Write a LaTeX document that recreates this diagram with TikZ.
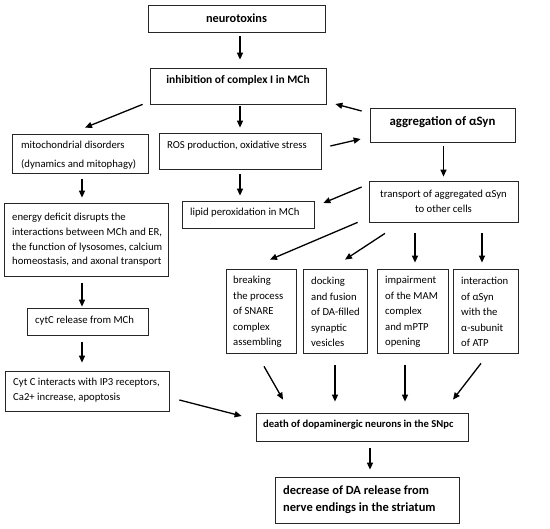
\documentclass[tikz,border=0pt]{standalone}
\usepackage{fontspec}
\setmainfont{Carlito}
\usetikzlibrary{arrows.meta}
\begin{document}
\begin{tikzpicture}[x=1pt,y=-1pt,
  box/.style={draw=black!85, line width=0.75pt, rectangle, inner sep=0pt},
  txt/.style={inner sep=0pt, align=left, font=\fontsize{10.7}{14.6}\selectfont},
  ctxt/.style={inner sep=0pt, align=center, font=\fontsize{10.7}{15}\selectfont},
  btxt/.style={inner sep=0pt, align=center, font=\bfseries\fontsize{12.3}{13}\selectfont},
  arr/.style={line width=1.3pt, -{Triangle[length=7pt,width=6pt]}}]
\useasboundingbox (0,0) rectangle (550,529);

% boxes
\node[box, minimum width=177pt, minimum height=27pt] (neuro) at (236.5,18.5) {};
\node[box, minimum width=176pt, minimum height=36pt] (inh) at (238,86) {};
\node[box, minimum width=145pt, minimum height=34pt] (agg) at (442.5,125) {};
\node[box, minimum width=136pt, minimum height=39pt] (mito) at (80,153.5) {};
\node[box, minimum width=162pt, minimum height=36pt] (ros) at (240,151) {};
\node[box, minimum width=149pt, minimum height=41pt] (trans) at (443.5,201.5) {};
\node[box, minimum width=132pt, minimum height=27pt] (lipid) at (248,214.5) {};
\node[box, minimum width=164pt, minimum height=73pt] (energy) at (86,239.5) {};
\node[box, minimum width=121pt, minimum height=27pt] (cytc) at (87.5,321.5) {};
\node[box, minimum width=164pt, minimum height=40pt] (cyti) at (87,391) {};
\node[box, minimum width=70pt, minimum height=84pt] (b1) at (261,311) {};
\node[box, minimum width=64pt, minimum height=84pt] (b2) at (335,311) {};
\node[box, minimum width=71pt, minimum height=84pt] (b3) at (412.5,311) {};
\node[box, minimum width=65pt, minimum height=84pt] (b4) at (485.5,311) {};
\node[box, minimum width=212pt, minimum height=28pt] (death) at (362,427) {};
\node[box, minimum width=184pt, minimum height=46pt] (decr) at (367,500) {};

% texts
\node[btxt] (neuroT) at (236.5,18) {neurotoxins};
\node[btxt, font=\bfseries\fontsize{11.5}{13}\selectfont] (inhT) at (238,80) {inhibition of complex I in MCh};
\node[btxt, font=\bfseries\fontsize{12.8}{13}\selectfont] (aggT) at (442.5,122) {aggregation of αSyn};
\node[txt, anchor=west, font=\fontsize{10.7}{19}\selectfont] (mitoT) at (21,155.5) {mitochondrial disorders\\(dynamics and mitophagy)};
\node[txt, anchor=west] (rosT) at (167,146) {ROS production, oxidative stress};
\node[ctxt] (transT) at (443.5,201.5) {transport of aggregated αSyn\\to other cells};
\node[txt, anchor=west] (lipidT) at (190,213) {lipid peroxidation in MCh};
\node[txt, anchor=west] (energyT) at (12,240) {energy deficit disrupts the\\interactions between MCh and ER,\\the function of lysosomes, calcium\\homeostasis, and axonal transport};
\node[txt, anchor=west] (cytcT) at (35,321) {cytC release from MCh};
\node[txt, anchor=west, font=\fontsize{10.7}{15}\selectfont] (cytiT) at (13,390.5) {Cyt C interacts with IP3 receptors,\\Ca2+ increase, apoptosis};
\node[txt, anchor=west, font=\fontsize{10.7}{15.5}\selectfont] (b1T) at (233,312) {breaking\\the process\\of SNARE\\complex\\assembling};
\node[txt, anchor=west, font=\fontsize{10.7}{15.5}\selectfont] (b2T) at (311,312) {docking\\and fusion\\of DA-filled\\synaptic\\vesicles};
\node[txt, anchor=west, font=\fontsize{10.7}{15.5}\selectfont] (b3T) at (385,312) {impairment\\of the MAM\\complex\\and mPTP\\opening};
\node[txt, anchor=west, font=\fontsize{10.7}{15.5}\selectfont] (b4T) at (461,312) {interaction\\of αSyn\\with the\\α-subunit\\of ATP};
\node[txt, anchor=west, font=\bfseries\fontsize{10.6}{13}\selectfont] (deathT) at (263,425) {death of dopaminergic neurons in the SNpc};
\node[txt, anchor=west, font=\bfseries\fontsize{12.5}{17.5}\selectfont] (decrT) at (283,499.5) {decrease of DA release from\\nerve endings in the striatum};

% connectors
\draw[arr] ([xshift=3.5pt,yshift=-4pt]neuro.south) -- ([xshift=2pt,yshift=8pt]inh.north);
\draw[arr] ([xshift=-7pt]inh.south west) -- ([xshift=5pt,yshift=6pt]mito.north);
\draw[arr] ([xshift=2pt,yshift=-2pt]inh.south) -- ([yshift=5pt]ros.north);
\draw[arr] ([xshift=-8pt,yshift=14pt]agg.west) -- ([xshift=9pt,yshift=-18pt]inh.east);
\draw[arr] ([xshift=9pt,yshift=5pt]ros.east) -- ([xshift=-9pt,yshift=-14pt]agg.west);
\draw[arr] ([xshift=1pt,yshift=-4pt]agg.south) -- ([yshift=4pt]trans.north);
\draw[arr] ([yshift=-5pt]ros.south) -- ([xshift=-8pt,yshift=5pt]lipid.north);
\draw[arr] ([xshift=-7pt,yshift=14.5pt]trans.west) -- ([xshift=9pt,yshift=11.5pt]lipid.east);
\draw[arr] ([xshift=2pt,yshift=-6pt]mito.south) -- ([xshift=-4pt,yshift=5pt]energy.north);
\draw[arr] ([xshift=-4pt,yshift=-7pt]energy.south) -- ([xshift=-5.5pt,yshift=1pt]cytc.north);
\draw[arr] ([xshift=-5.5pt,yshift=-7pt]cytc.south) -- ([xshift=-5pt,yshift=8pt]cyti.north);
\draw[arr] ([xshift=-11pt]trans.south west) -- ([xshift=9pt,yshift=9pt]b1.north);
\draw[arr] ([xshift=-58.5pt,yshift=-11pt]trans.south) -- ([xshift=10pt,yshift=9pt]b2.north);
\draw[arr] ([xshift=-28.5pt,yshift=-11pt]trans.south) -- ([xshift=2.5pt,yshift=6pt]b3.north);
\draw[arr] ([xshift=38.5pt,yshift=-11pt]trans.south) -- ([xshift=-3.5pt,yshift=6pt]b4.north);
\draw[arr] ([xshift=3pt,yshift=-13pt]b1.south) -- ([xshift=-79pt,yshift=13pt]death.north);
\draw[arr] ([yshift=-12pt]b2.south) -- ([xshift=-27pt,yshift=11pt]death.north);
\draw[arr] ([xshift=-7.5pt,yshift=-12pt]b3.south) -- ([xshift=43pt,yshift=11pt]death.north);
\draw[arr] ([xshift=-4.5pt,yshift=-10pt]b4.south) -- ([xshift=91pt,yshift=13pt]death.north);
\draw[arr] ([xshift=10pt,yshift=-9pt]cyti.east) -- ([xshift=-14pt,yshift=11pt]death.west);
\draw[arr] ([xshift=8pt,yshift=-7pt]death.south) -- ([xshift=3pt,yshift=7pt]decr.north);
\end{tikzpicture}
\end{document}
